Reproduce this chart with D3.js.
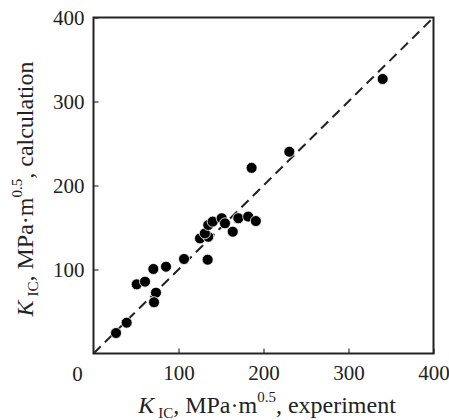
<!DOCTYPE html>
<html>
<head>
<meta charset="utf-8">
<script src="https://cdn.jsdelivr.net/npm/d3@7"></script>
<style>
  body { margin: 0; background: #fff; }
</style>
</head>
<body>
<div id="chart"></div>
<script>
  var experiment  = [26.5, 39, 50.8, 60.6, 70.4, 73.5, 71.2, 85.3, 106.5, 134.3, 125.3, 135, 131, 135, 140.2, 150.8, 154.7, 163.8, 170.4, 182, 191, 186, 230.4, 340.2];
  var calculation = [24.4, 36.7, 82.3, 85.5, 100.6, 72.4, 61, 103.3, 112.5, 111.7, 137, 139, 143, 153, 157, 161, 155, 145, 161, 163, 157.7, 221, 240.2, 326.8];
  var tickValues = [100, 200, 300, 400];
  var domain = [0, 400];

  var serif = "'Liberation Serif', 'Times New Roman', 'DejaVu Serif', serif";
  var W = 449, H = 420;
  var margin = {top: 17.5, right: 15.5, bottom: 66.5, left: 93.5};

  var svg = d3.select("#chart").append("svg")
    .attr("width", W)
    .attr("height", H)
    .style("font-family", serif);

  var x = d3.scaleLinear().domain(domain).range([margin.left, W - margin.right]);
  var y = d3.scaleLinear().domain(domain).range([H - margin.bottom, margin.top]);

  // 1:1 dashed line
  svg.append("line")
    .attr("x1", x(0)).attr("y1", y(0))
    .attr("x2", x(400)).attr("y2", y(400))
    .attr("stroke", "#222")
    .attr("stroke-width", 2)
    .attr("stroke-dasharray", "10,6");

  // points
  var pts = experiment.map(function(d, i) { return {x: d, y: calculation[i]}; });
  svg.selectAll("circle.pt")
    .data(pts)
    .enter().append("circle")
      .attr("class", "pt")
      .attr("cx", function(d) { return x(d.x); })
      .attr("cy", function(d) { return y(d.y); })
      .attr("r", 5.5)
      .attr("fill", "#000")
      .attr("stroke", "#fff")
      .attr("stroke-width", 0.8);

  // axes, ticks inward
  var xAxis = d3.axisBottom(x).tickValues(tickValues).tickSizeInner(-5).tickSizeOuter(0).tickPadding(12);
  var yAxis = d3.axisLeft(y).tickValues(tickValues).tickSizeInner(-5).tickSizeOuter(0).tickPadding(9);

  var gx = svg.append("g")
    .attr("transform", "translate(0," + y(0) + ")")
    .call(xAxis);
  var gy = svg.append("g")
    .attr("transform", "translate(" + x(0) + ",0)")
    .call(yAxis);

  [gx, gy].forEach(function(g) {
    g.attr("font-family", serif).attr("font-size", 21);
    g.select(".domain").remove();
    g.selectAll(".tick line").attr("stroke", "#333").attr("stroke-width", 1.2);
    g.selectAll(".tick text")
      .style("font-family", serif)
      .style("font-size", "21px")
      .attr("fill", "#222");
  });
  gx.selectAll(".tick text").attr("dy", "0.71em");
  gy.selectAll(".tick text").attr("dy", "0.34em");

  // frame
  svg.append("rect")
    .attr("x", x(0)).attr("y", y(400))
    .attr("width", x(400) - x(0))
    .attr("height", y(0) - y(400))
    .attr("fill", "none")
    .attr("stroke", "#222")
    .attr("stroke-width", 2);

  // shared zero label
  svg.append("text")
    .attr("x", x(0) - 16).attr("y", 381)
    .attr("text-anchor", "middle")
    .attr("fill", "#222")
    .style("font-family", serif)
    .style("font-size", "21px")
    .text("0");

  function kLabel(t, rest) {
    t.append("tspan").style("font-style", "italic").text("K");
    t.append("tspan").attr("dx", 4).attr("dy", 5).style("font-size", "15px").text("IC");
    t.append("tspan").attr("dy", -5).text(", MPa·m");
    t.append("tspan").attr("dy", -11).style("font-size", "15px").text("0.5");
    t.append("tspan").attr("dy", 11).text(rest);
  }

  var xl = svg.append("text")
    .attr("x", 267)
    .attr("y", 413)
    .attr("text-anchor", "middle")
    .attr("fill", "#222")
    .style("font-family", serif)
    .style("font-size", "24px");
  kLabel(xl, ", experiment");

  var yl = svg.append("text")
    .attr("transform", "translate(33,189) rotate(-90)")
    .attr("text-anchor", "middle")
    .attr("fill", "#222")
    .style("font-family", serif)
    .style("font-size", "24px");
  kLabel(yl, ", calculation");
</script>
</body>
</html>
